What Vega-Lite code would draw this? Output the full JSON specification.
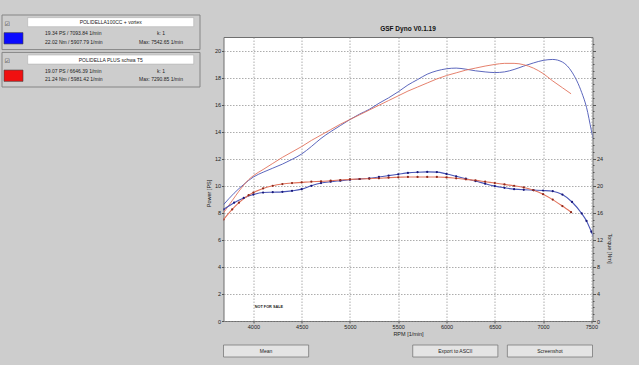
{
  "$schema": "https://vega.github.io/schema/vega-lite/v6.json",
  "background": "#cdcdcd",
  "padding": {"left": 1, "top": 14, "right": 26, "bottom": 8},
  "config": {"font": "Liberation Sans", "view": {"stroke": null}},
  "datasets": {
    "runs": [
      {"run": "POLIDELLA100CC + vortex", "rpm": 3690, "power": 8.6, "torque": 16.5},
      {"run": "POLIDELLA100CC + vortex", "rpm": 3800, "power": 9.45, "torque": 17.5},
      {"run": "POLIDELLA100CC + vortex", "rpm": 3900, "power": 10.1, "torque": 18.2},
      {"run": "POLIDELLA100CC + vortex", "rpm": 4000, "power": 10.65, "torque": 18.7},
      {"run": "POLIDELLA100CC + vortex", "rpm": 4100, "power": 11.0, "torque": 19.0},
      {"run": "POLIDELLA100CC + vortex", "rpm": 4200, "power": 11.3, "torque": 19.05},
      {"run": "POLIDELLA100CC + vortex", "rpm": 4300, "power": 11.6, "torque": 19.1},
      {"run": "POLIDELLA100CC + vortex", "rpm": 4400, "power": 11.95, "torque": 19.25},
      {"run": "POLIDELLA100CC + vortex", "rpm": 4500, "power": 12.35, "torque": 19.5},
      {"run": "POLIDELLA100CC + vortex", "rpm": 4600, "power": 12.9, "torque": 20.0},
      {"run": "POLIDELLA100CC + vortex", "rpm": 4700, "power": 13.5, "torque": 20.4},
      {"run": "POLIDELLA100CC + vortex", "rpm": 4800, "power": 14.0, "torque": 20.6},
      {"run": "POLIDELLA100CC + vortex", "rpm": 4900, "power": 14.45, "torque": 20.75},
      {"run": "POLIDELLA100CC + vortex", "rpm": 5000, "power": 14.9, "torque": 20.9},
      {"run": "POLIDELLA100CC + vortex", "rpm": 5100, "power": 15.3, "torque": 21.0},
      {"run": "POLIDELLA100CC + vortex", "rpm": 5200, "power": 15.65, "torque": 21.1},
      {"run": "POLIDELLA100CC + vortex", "rpm": 5300, "power": 16.1, "torque": 21.3},
      {"run": "POLIDELLA100CC + vortex", "rpm": 5400, "power": 16.5, "torque": 21.5},
      {"run": "POLIDELLA100CC + vortex", "rpm": 5500, "power": 16.95, "torque": 21.7},
      {"run": "POLIDELLA100CC + vortex", "rpm": 5600, "power": 17.45, "torque": 21.9},
      {"run": "POLIDELLA100CC + vortex", "rpm": 5700, "power": 17.85, "torque": 22.0},
      {"run": "POLIDELLA100CC + vortex", "rpm": 5800, "power": 18.25, "torque": 22.05},
      {"run": "POLIDELLA100CC + vortex", "rpm": 5900, "power": 18.5, "torque": 22.02},
      {"run": "POLIDELLA100CC + vortex", "rpm": 6000, "power": 18.65, "torque": 21.75},
      {"run": "POLIDELLA100CC + vortex", "rpm": 6100, "power": 18.7, "torque": 21.4},
      {"run": "POLIDELLA100CC + vortex", "rpm": 6200, "power": 18.62, "torque": 21.05},
      {"run": "POLIDELLA100CC + vortex", "rpm": 6300, "power": 18.5, "torque": 20.7},
      {"run": "POLIDELLA100CC + vortex", "rpm": 6400, "power": 18.42, "torque": 20.3},
      {"run": "POLIDELLA100CC + vortex", "rpm": 6500, "power": 18.37, "torque": 19.95},
      {"run": "POLIDELLA100CC + vortex", "rpm": 6600, "power": 18.42, "torque": 19.7},
      {"run": "POLIDELLA100CC + vortex", "rpm": 6700, "power": 18.6, "torque": 19.5},
      {"run": "POLIDELLA100CC + vortex", "rpm": 6800, "power": 18.85, "torque": 19.4},
      {"run": "POLIDELLA100CC + vortex", "rpm": 6900, "power": 19.08, "torque": 19.35},
      {"run": "POLIDELLA100CC + vortex", "rpm": 7000, "power": 19.27, "torque": 19.3},
      {"run": "POLIDELLA100CC + vortex", "rpm": 7100, "power": 19.34, "torque": 19.2},
      {"run": "POLIDELLA100CC + vortex", "rpm": 7200, "power": 19.15, "torque": 18.7},
      {"run": "POLIDELLA100CC + vortex", "rpm": 7300, "power": 18.4, "torque": 17.6},
      {"run": "POLIDELLA100CC + vortex", "rpm": 7400, "power": 16.9, "torque": 15.9},
      {"run": "POLIDELLA100CC + vortex", "rpm": 7450, "power": 15.8, "torque": 14.8},
      {"run": "POLIDELLA100CC + vortex", "rpm": 7500, "power": 14.1, "torque": 13.2},
      {"run": "POLIDELLA100CC + vortex", "rpm": 7540, "power": 12.8, "torque": 11.8},
      {"run": "POLIDELLA PLUS schwa T5", "rpm": 3690, "power": 8.0, "torque": 15.0},
      {"run": "POLIDELLA PLUS schwa T5", "rpm": 3780, "power": 8.9, "torque": 16.5},
      {"run": "POLIDELLA PLUS schwa T5", "rpm": 3850, "power": 9.6, "torque": 17.5},
      {"run": "POLIDELLA PLUS schwa T5", "rpm": 3950, "power": 10.45, "torque": 18.6},
      {"run": "POLIDELLA PLUS schwa T5", "rpm": 4000, "power": 10.75, "torque": 19.0},
      {"run": "POLIDELLA PLUS schwa T5", "rpm": 4100, "power": 11.2, "torque": 19.6},
      {"run": "POLIDELLA PLUS schwa T5", "rpm": 4200, "power": 11.65, "torque": 20.0},
      {"run": "POLIDELLA PLUS schwa T5", "rpm": 4300, "power": 12.1, "torque": 20.25},
      {"run": "POLIDELLA PLUS schwa T5", "rpm": 4400, "power": 12.5, "torque": 20.4},
      {"run": "POLIDELLA PLUS schwa T5", "rpm": 4500, "power": 12.9, "torque": 20.5},
      {"run": "POLIDELLA PLUS schwa T5", "rpm": 4600, "power": 13.35, "torque": 20.6},
      {"run": "POLIDELLA PLUS schwa T5", "rpm": 4700, "power": 13.75, "torque": 20.65},
      {"run": "POLIDELLA PLUS schwa T5", "rpm": 4800, "power": 14.15, "torque": 20.75},
      {"run": "POLIDELLA PLUS schwa T5", "rpm": 4900, "power": 14.55, "torque": 20.85},
      {"run": "POLIDELLA PLUS schwa T5", "rpm": 5000, "power": 14.9, "torque": 20.95},
      {"run": "POLIDELLA PLUS schwa T5", "rpm": 5100, "power": 15.25, "torque": 21.0},
      {"run": "POLIDELLA PLUS schwa T5", "rpm": 5200, "power": 15.6, "torque": 21.05},
      {"run": "POLIDELLA PLUS schwa T5", "rpm": 5300, "power": 15.95, "torque": 21.1},
      {"run": "POLIDELLA PLUS schwa T5", "rpm": 5400, "power": 16.3, "torque": 21.2},
      {"run": "POLIDELLA PLUS schwa T5", "rpm": 5500, "power": 16.65, "torque": 21.25},
      {"run": "POLIDELLA PLUS schwa T5", "rpm": 5600, "power": 17.0, "torque": 21.3},
      {"run": "POLIDELLA PLUS schwa T5", "rpm": 5700, "power": 17.3, "torque": 21.3},
      {"run": "POLIDELLA PLUS schwa T5", "rpm": 5800, "power": 17.6, "torque": 21.3},
      {"run": "POLIDELLA PLUS schwa T5", "rpm": 5900, "power": 17.9, "torque": 21.3},
      {"run": "POLIDELLA PLUS schwa T5", "rpm": 6000, "power": 18.15, "torque": 21.24},
      {"run": "POLIDELLA PLUS schwa T5", "rpm": 6100, "power": 18.35, "torque": 21.1},
      {"run": "POLIDELLA PLUS schwa T5", "rpm": 6200, "power": 18.55, "torque": 20.95},
      {"run": "POLIDELLA PLUS schwa T5", "rpm": 6300, "power": 18.7, "torque": 20.8},
      {"run": "POLIDELLA PLUS schwa T5", "rpm": 6400, "power": 18.85, "torque": 20.6},
      {"run": "POLIDELLA PLUS schwa T5", "rpm": 6500, "power": 18.97, "torque": 20.4},
      {"run": "POLIDELLA PLUS schwa T5", "rpm": 6600, "power": 19.05, "torque": 20.2},
      {"run": "POLIDELLA PLUS schwa T5", "rpm": 6700, "power": 19.05, "torque": 20.0},
      {"run": "POLIDELLA PLUS schwa T5", "rpm": 6800, "power": 18.95, "torque": 19.75},
      {"run": "POLIDELLA PLUS schwa T5", "rpm": 6900, "power": 18.7, "torque": 19.35},
      {"run": "POLIDELLA PLUS schwa T5", "rpm": 7000, "power": 18.3, "torque": 18.75},
      {"run": "POLIDELLA PLUS schwa T5", "rpm": 7100, "power": 17.75, "torque": 17.95},
      {"run": "POLIDELLA PLUS schwa T5", "rpm": 7200, "power": 17.25, "torque": 17.0},
      {"run": "POLIDELLA PLUS schwa T5", "rpm": 7290, "power": 16.8, "torque": 16.1}
    ],
    "info": [
      {"run": "POLIDELLA100CC + vortex", "check": "☑", "power": "19.34 PS / 7093.84 1/min", "torque": "22.02 Nm / 5907.79 1/min", "k": "k: 1", "max": "Max: 7542.65 1/min"},
      {"run": "POLIDELLA PLUS schwa T5", "check": "☑", "power": "19.07 PS / 6646.39 1/min", "torque": "21.24 Nm / 5981.42 1/min", "k": "k: 1", "max": "Max: 7290.85 1/min"}
    ],
    "buttons": [
      {"button": "Mean"},
      {"button": "Export to ASCII"},
      {"button": "Screenshot"}
    ]
  },
  "spacing": 4.5,
  "hconcat": [
    {
      "width": 198,
      "height": 72,
      "data": {"name": "info"},
      "encoding": {
        "y": {"field": "run", "type": "nominal", "scale": {"domain": ["POLIDELLA100CC + vortex", "POLIDELLA PLUS schwa T5"], "paddingInner": 0.075, "paddingOuter": 0}, "axis": null}
      },
      "layer": [
        {"mark": {"type": "rect", "fill": "#cdcdcd", "stroke": "#858585", "strokeWidth": 1}},
        {"mark": {"type": "rect", "fill": "white", "stroke": "#a8a8a8", "strokeWidth": 0.5, "height": 9, "yOffset": -10.15},
         "encoding": {"x": {"value": 25.7}, "x2": {"value": 191.7}}},
        {"mark": {"type": "text", "fontSize": 5, "color": "#222", "yOffset": -10.15},
         "encoding": {"text": {"field": "run"}, "x": {"value": 108.7}}},
        {"mark": {"type": "text", "fontSize": 6, "color": "#333", "font": "DejaVu Sans", "yOffset": -8.4},
         "encoding": {"text": {"field": "check"}, "x": {"value": 5.3}}},
        {"mark": {"type": "rect", "height": 11.3, "yOffset": 6, "stroke": "#404040", "strokeWidth": 0.6},
         "encoding": {
           "x": {"value": 2}, "x2": {"value": 21},
           "color": {"field": "run", "type": "nominal", "scale": {"domain": ["POLIDELLA100CC + vortex", "POLIDELLA PLUS schwa T5"], "range": ["#0a0aff", "#f01010"]}, "legend": null}
         }},
        {"mark": {"type": "text", "fontSize": 5, "color": "#222", "align": "left", "yOffset": 1.05},
         "encoding": {"text": {"field": "power"}, "x": {"value": 43}}},
        {"mark": {"type": "text", "fontSize": 5, "color": "#222", "align": "left", "yOffset": 9.65},
         "encoding": {"text": {"field": "torque"}, "x": {"value": 43}}},
        {"mark": {"type": "text", "fontSize": 5, "color": "#222", "align": "center", "yOffset": 1.05},
         "encoding": {"text": {"field": "k"}, "x": {"value": 159}}},
        {"mark": {"type": "text", "fontSize": 5, "color": "#222", "align": "left", "yOffset": 9.65},
         "encoding": {"text": {"field": "max"}, "x": {"value": 137}}}
      ]
    },
    {
      "spacing": 6,
      "vconcat": [
        {
          "width": 369,
          "height": 4,
          "data": {"values": [{}]},
          "mark": {"type": "text", "text": "", "fontSize": 0.5}
        },
        {
          "width": 369,
          "height": 284,
          "title": {"text": "GSF Dyno V0.1.19", "frame": "group", "anchor": "middle", "fontSize": 6.5, "fontWeight": "bold", "color": "#111", "offset": 5},
          "view": {"fill": "white", "stroke": "#6f6f6f", "strokeWidth": 1},
          "data": {"name": "runs"},
          "layer": [
            {
              "layer": [
                {
                  "mark": {"type": "line", "interpolate": "monotone", "strokeWidth": 0.9, "clip": true},
                  "encoding": {
                    "x": {"field": "rpm", "type": "quantitative", "scale": {"domain": [3690, 7512], "nice": false, "zero": false},
                      "axis": {"title": "RPM [1/min]", "values": [4000, 4500, 5000, 5500, 6000, 6500, 7000, 7500], "format": "d", "labelOverlap": false, "grid": true, "gridColor": "#8a8a8a", "gridDash": [1.5, 1.5], "gridWidth": 0.7, "domain": false, "tickSize": 2, "tickColor": "#555", "labelFontSize": 5.5, "labelColor": "#222", "labelPadding": 1, "labelFlush": false, "titleFontSize": 5.5, "titleFontWeight": "normal", "titleColor": "#222", "titlePadding": 2}},
                    "y": {"field": "power", "type": "quantitative", "scale": {"domain": [0, 21], "nice": false},
                      "axis": {"title": "Power [PS]", "values": [0, 2, 4, 6, 8, 10, 12, 14, 16, 18, 20], "tickCount": 11, "labelOverlap": false, "grid": true, "gridColor": "#8a8a8a", "gridDash": [1.5, 1.5], "gridWidth": 0.7, "domain": false, "tickSize": 2, "tickColor": "#555", "labelFontSize": 5.5, "labelColor": "#222", "labelPadding": 1, "labelFlush": false, "titleFontSize": 5.5, "titleFontWeight": "normal", "titleColor": "#222", "titlePadding": 3, "titleY": 156}},
                    "stroke": {"field": "run", "type": "nominal", "scale": {"domain": ["POLIDELLA100CC + vortex", "POLIDELLA PLUS schwa T5"], "range": ["#4a56b6", "#e2735c"]}, "legend": null}
                  }
                },
                {
                  "data": {"values": [{}]},
                  "mark": {"type": "text", "text": "NOT FOR SALE", "fontSize": 3.8, "fontWeight": "bold", "color": "#222"},
                  "encoding": {
                    "x": {"datum": 4160, "type": "quantitative"},
                    "y": {"datum": 1.0, "type": "quantitative"}
                  }
                }
              ]
            },
            {
              "layer": [
                {
                  "mark": {"type": "line", "interpolate": "monotone", "strokeWidth": 1.1, "clip": true},
                  "encoding": {
                    "x": {"field": "rpm", "type": "quantitative"},
                    "y": {"field": "torque", "type": "quantitative", "scale": {"domain": [0, 42], "nice": false},
                      "axis": {"orient": "right", "title": "Torque [Nm]", "values": [0, 1, 2, 3, 4, 5, 6, 7, 8, 9, 10, 11, 12, 13, 14, 15, 16, 17, 18, 19, 20, 21, 22, 23, 24, 25, 26, 27, 28, 29, 30, 31, 32, 33, 34, 35, 36, 37, 38, 39, 40, 41], "tickCount": 42, "labelExpr": "datum.value % 4 === 0 && datum.value <= 24 ? datum.label : ''", "labelOverlap": false, "labelFlush": false, "grid": false, "domain": false, "tickSize": {"condition": {"test": "datum.value % 4 === 0", "value": 3}, "value": 1.5}, "tickColor": "#555", "labelFontSize": 5.5, "labelColor": "#222", "labelPadding": 1, "titleFontSize": 5.5, "titleFontWeight": "normal", "titleColor": "#222", "titlePadding": 4, "titleY": 211}},
                    "stroke": {"field": "run", "type": "nominal", "legend": null}
                  }
                },
                {
                  "mark": {"type": "point", "filled": true, "size": 5, "opacity": 1, "clip": true},
                  "encoding": {
                    "x": {"field": "rpm", "type": "quantitative"},
                    "y": {"field": "torque", "type": "quantitative"},
                    "fill": {"field": "run", "type": "nominal", "scale": {"domain": ["POLIDELLA100CC + vortex", "POLIDELLA PLUS schwa T5"], "range": ["#16167a", "#8f2a1c"]}, "legend": null}
                  }
                }
              ]
            }
          ],
          "resolve": {"scale": {"y": "independent"}}
        },
        {
          "width": 369,
          "height": 12,
          "data": {"name": "buttons"},
          "encoding": {
            "x": {"field": "button", "type": "nominal", "scale": {"domain": ["Mean", "-", "Export to ASCII", "Screenshot"], "paddingInner": 0.1, "paddingOuter": 0}, "axis": null}
          },
          "layer": [
            {"mark": {"type": "rect", "fill": "#e4e4e4", "stroke": "#7a7a7a", "strokeWidth": 0.8}},
            {"mark": {"type": "text", "fontSize": 5, "color": "#222"}, "encoding": {"text": {"field": "button"}}}
          ]
        }
      ]
    }
  ]
}
